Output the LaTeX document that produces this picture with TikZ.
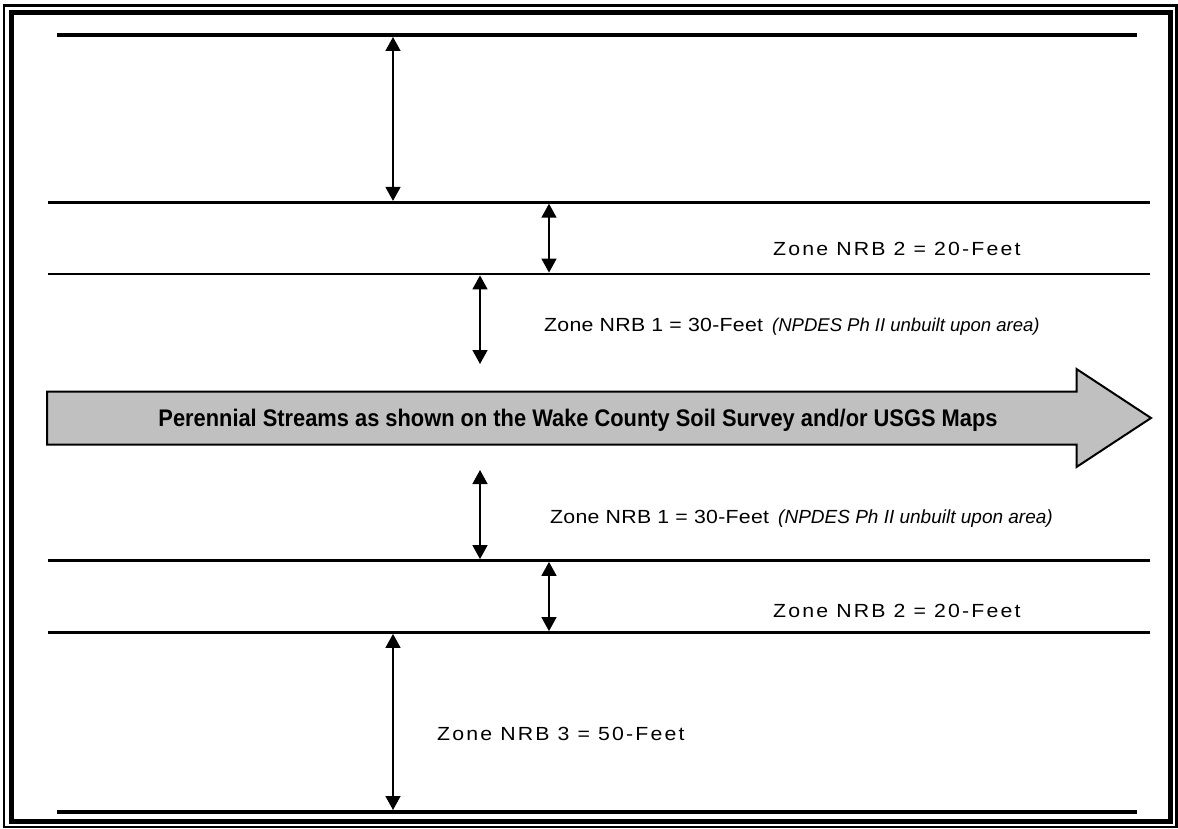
\documentclass[tikz,border=0pt]{standalone}
\usepackage{fontspec}
\setmainfont{Liberation Sans}
\newfontfamily\zonewide[FakeStretch=1.12,LetterSpace=11.5]{Liberation Sans}
\newfontfamily\zonenarrow[FakeStretch=1.12,LetterSpace=1.5]{Liberation Sans}
\newfontfamily\streamfont[FakeStretch=0.91]{Liberation Sans Bold}
\usetikzlibrary{arrows.meta}
\definecolor{streamgray}{RGB}{192,192,192}
\tikzset{
  zoneline/.style={line width=2.7pt},
  edgeline/.style={line width=4pt},
  dim/.style={line width=1.5pt,{Triangle[length=14pt,width=15pt]}-{Triangle[length=14pt,width=15pt]}},
  lbl/.style={anchor=base west,inner sep=0pt,font=\fontsize{19}{21}\selectfont},
}
\begin{document}
\begin{tikzpicture}[x=1pt,y=-1pt]
\useasboundingbox (0,0) rectangle (1178,829);
% border
\draw[line width=2.5pt] (4,5.5) rectangle (1176.3,827.2);
\draw[line width=5.5pt] (11.5,12.7) rectangle (1170.5,821.3);
% horizontal lines
\draw[edgeline] (57,35) coordinate (t1) -- (1137,35) coordinate (t2);
\draw[zoneline] (48,202.3) -- (1150,202.3);
\draw[zoneline] (48,274) -- (1150,274);
\draw[zoneline] (48,560.5) -- (1150,560.5);
\draw[zoneline] (48,632.5) -- (1150,632.5);
\draw[edgeline] (57,812) coordinate (b1) -- (1137,812) coordinate (b2);
% stream arrow
\draw[line width=2pt,fill=streamgray] (47,391.5) -- (1076.5,391.5) -- (1076.5,369) -- (1151,418) -- (1076.5,467) -- (1076.5,444.5) -- (47,444.5) -- cycle;
\node[inner sep=0pt,anchor=base] (stream) at (578,426.5) {\streamfont\fontsize{24}{26}\selectfont Perennial Streams as shown on the Wake County Soil Survey and/or USGS Maps};
% dimension arrow end points
\coordinate (a1) at (393,37);   \coordinate (a2) at (393,200.9);
\coordinate (c1) at (549,203.7); \coordinate (c2) at (549,272.6);
\coordinate (d1) at (480,275.4); \coordinate (d2) at (480,364);
\coordinate (e1) at (480,470);   \coordinate (e2) at (480,559.1);
\coordinate (f1) at (549,561.9); \coordinate (f2) at (549,631.1);
\coordinate (g1) at (393,633.9); \coordinate (g2) at (393,810);
\draw[dim] (a1) -- (a2);
\draw[dim] (c1) -- (c2);
\draw[dim] (d1) -- (d2);
\draw[dim] (e1) -- (e2);
\draw[dim] (f1) -- (f2);
\draw[dim] (g1) -- (g2);
% labels
\node[lbl] (z2u) at (773,255) {\zonewide Zone NRB 2 = 20-Feet};
\node[lbl] (z1u) at (544,331) {\zonenarrow Zone NRB 1 = 30-Feet};
\node[lbl,font=\fontsize{18.5}{21}\selectfont] (z1ui) at (772,331) {\itshape (NPDES Ph II unbuilt upon area)};
\node[lbl] (z1l) at (550,523) {\zonenarrow Zone NRB 1 = 30-Feet};
\node[lbl] (z1li) at (778,523) {\itshape (NPDES Ph II unbuilt upon area)};
\node[lbl] (z2l) at (773,617) {\zonewide Zone NRB 2 = 20-Feet};
\node[lbl] (z3) at (437,740) {\zonewide Zone NRB 3 = 50-Feet};
\end{tikzpicture}
\end{document}
